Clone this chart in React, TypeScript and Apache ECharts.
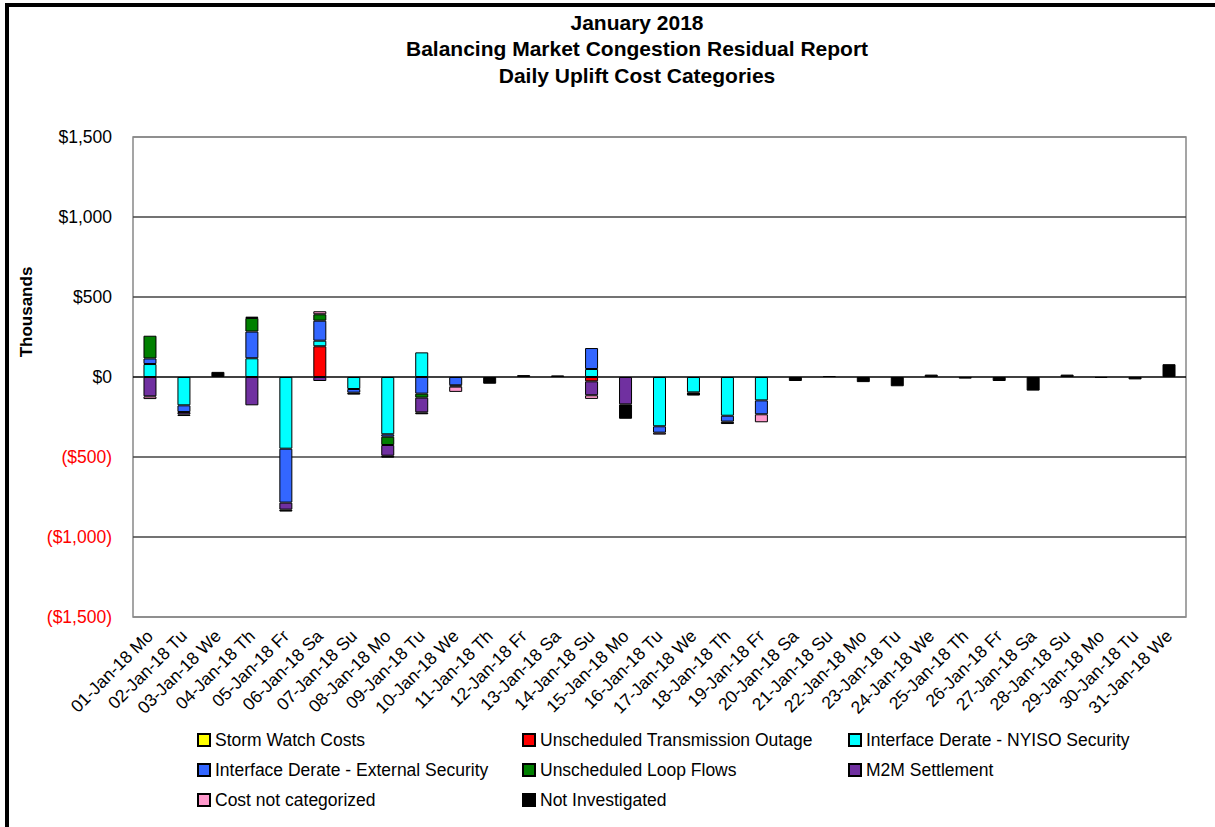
import React, { useEffect, useRef } from "react";
import * as echarts from "echarts";

const days = [
  "01-Jan-18 Mo", "02-Jan-18 Tu", "03-Jan-18 We", "04-Jan-18 Th", "05-Jan-18 Fr", "06-Jan-18 Sa", "07-Jan-18 Su",
  "08-Jan-18 Mo", "09-Jan-18 Tu", "10-Jan-18 We", "11-Jan-18 Th", "12-Jan-18 Fr", "13-Jan-18 Sa", "14-Jan-18 Su",
  "15-Jan-18 Mo", "16-Jan-18 Tu", "17-Jan-18 We", "18-Jan-18 Th", "19-Jan-18 Fr", "20-Jan-18 Sa", "21-Jan-18 Su",
  "22-Jan-18 Mo", "23-Jan-18 Tu", "24-Jan-18 We", "25-Jan-18 Th", "26-Jan-18 Fr", "27-Jan-18 Sa", "28-Jan-18 Su",
  "29-Jan-18 Mo", "30-Jan-18 Tu", "31-Jan-18 We",
];

// values in thousands of dollars
const stormWatch = [0, 0, 0, 0, 0, 0, 0, 0, 0, 0, 0, 0, 0, 0, 0, 0, 0, 0, 0, 0, 0, 0, 0, 0, 0, 0, 0, 0, 0, 0, 0];
const transOutage = [0, 0, 0, 0, 0, 192, 0, 0, 0, 0, 0, 0, 0, -27, 0, 0, 0, 0, 0, 0, 0, 0, 0, 0, 0, 0, 0, 0, 0, 0, 0];
const nyisoSecurity = [81, -177, 0, 117, -448, 35, -75, -358, 154, 0, 0, 0, 0, 50, 0, -308, -96, -242, -146, 0, 0, 0, 0, 0, 0, 0, 0, 0, 0, 0, 0];
const externalSecurity = [35, -42, 0, 167, -337, 125, -23, -15, -104, -52, 0, 0, 0, 131, 0, -40, 0, -37, -87, 0, 0, 0, 0, 0, 0, 0, 0, 0, 0, 0, 0];
const loopFlows = [142, 0, 0, 85, 0, 40, 0, -52, -25, 0, 0, 0, 0, 0, 0, 0, 0, 0, 0, 0, 0, 0, 0, 0, 0, 0, 0, 0, 0, 0, 0];
const m2mSettlement = [-121, -15, 0, -177, -44, -25, 0, -67, -92, -8, 0, 0, 0, -87, -171, 0, 0, 0, 0, 0, 0, 0, 0, 0, 0, 0, 0, 0, 0, 0, 0];
const notCategorized = [-17, 0, 0, 0, 0, 19, 0, 0, 0, -33, 0, 0, 0, -23, 0, -12, 0, 0, -50, 0, 0, 0, 0, 0, 0, 0, 0, 0, 0, 0, 0];
const notInvestigated = [0, -10, 32, 8, -12, 0, -12, -12, -12, 0, -42, 12, 10, 0, -90, 0, -20, -15, 0, -25, 6, -32, -58, 15, -10, -25, -85, 15, -6, -15, 80];

const yTicks = [-1500, -1000, -500, 0, 500, 1000, 1500];

const seriesDefs = [
  { name: "Storm Watch Costs", data: stormWatch, color: "#FFFF00" },
  { name: "Unscheduled Transmission Outage", data: transOutage, color: "#FF0000" },
  { name: "Interface Derate - NYISO Security", data: nyisoSecurity, color: "#00FFFF" },
  { name: "Interface Derate - External Security", data: externalSecurity, color: "#3366FF" },
  { name: "Unscheduled Loop Flows", data: loopFlows, color: "#008000" },
  { name: "M2M Settlement", data: m2mSettlement, color: "#7030A0" },
  { name: "Cost not categorized", data: notCategorized, color: "#FF99CC" },
  { name: "Not Investigated", data: notInvestigated, color: "#000000" },
];

const legendCols = [
  ["Storm Watch Costs", "Interface Derate - External Security", "Cost not categorized"],
  ["Unscheduled Transmission Outage", "Unscheduled Loop Flows", "Not Investigated"],
  ["Interface Derate - NYISO Security", "M2M Settlement"],
];
const legendLefts = [197, 522, 848];

const FONT = "'Liberation Sans', Arial, sans-serif";

function fmt(v: number): string {
  const a = Math.abs(v).toLocaleString("en-US");
  return v < 0 ? "($" + a + ")" : "$" + a;
}

export default function App() {
  const ref = useRef<HTMLDivElement>(null);
  useEffect(() => {
    if (!ref.current) return;
    const chart = echarts.init(ref.current, undefined, { renderer: "svg" });
    const option: any = {
      animation: false,
      backgroundColor: "#ffffff",
      textStyle: { fontFamily: FONT },
      graphic: [
        {
          type: "rect",
          shape: { x: 7, y: 5, width: 1400, height: 1000 },
          style: { fill: "none", stroke: "#000", lineWidth: 4 },
          silent: true,
        },
        {
          type: "text",
          x: 637,
          y: 9,
          style: {
            text: "January 2018\nBalancing Market Congestion Residual Report\nDaily Uplift Cost Categories",
            fontSize: 21,
            fontWeight: "bold",
            fontFamily: FONT,
            lineHeight: 26.5,
            textAlign: "center",
            fill: "#000",
          },
        },
        {
          type: "text",
          x: 26,
          y: 312,
          rotation: Math.PI / 2,
          style: {
            text: "Thousands",
            fontSize: 17,
            fontWeight: "bold",
            fontFamily: FONT,
            textAlign: "center",
            textVerticalAlign: "middle",
            fill: "#000",
          },
        },
      ],
      legend: legendCols.map((cols, i) => ({
        data: cols,
        orient: "vertical",
        left: legendLefts[i],
        top: 731,
        padding: 0,
        itemWidth: 12,
        itemHeight: 12,
        itemGap: 12,
        icon: "rect",
        selectedMode: false,
        textStyle: { fontSize: 17.5, fontFamily: FONT, color: "#000", lineHeight: 18 },
      })),
      grid: {
        left: 133,
        right: 29,
        top: 137,
        bottom: 210,
        show: true,
        borderColor: "#888",
        borderWidth: 1.5,
        backgroundColor: "transparent",
      },
      xAxis: {
        type: "category",
        data: days,
        boundaryGap: true,
        axisLine: { show: false },
        axisTick: { show: false },
        axisLabel: {
          interval: 0,
          rotate: 45,
          fontSize: 17.5,
          fontFamily: FONT,
          color: "#000",
          margin: 16,
        },
      },
      yAxis: {
        type: "value",
        min: yTicks[0],
        max: yTicks[yTicks.length - 1],
        interval: 500,
        axisLine: { show: false },
        axisTick: { show: false },
        splitLine: {
          show: true,
          lineStyle: {
            color: ["#888", "#444", "#444", "#000", "#444", "#444", "#888"],
            width: 1.5,
          },
        },
        axisLabel: {
          fontSize: 17.5,
          fontFamily: FONT,
          margin: 21,
          formatter: (v: number) => fmt(v),
          color: (v: any) => (Number(v) < 0 ? "#FF0000" : "#000000"),
        },
      },
      series: seriesDefs.map((s) => ({
        name: s.name,
        type: "bar",
        stack: "total",
        barWidth: 13,
        data: s.data.map((v) => (v === 0 ? null : v)),
        itemStyle: { color: s.color, borderColor: "#000", borderWidth: 1 },
        emphasis: { disabled: true },
      })),
    };
    chart.setOption(option);
    return () => chart.dispose();
  }, []);
  return (
    <div
      ref={ref}
      style={{ position: "fixed", left: 0, top: 0, width: 1215, height: 827 }}
    />
  );
}
